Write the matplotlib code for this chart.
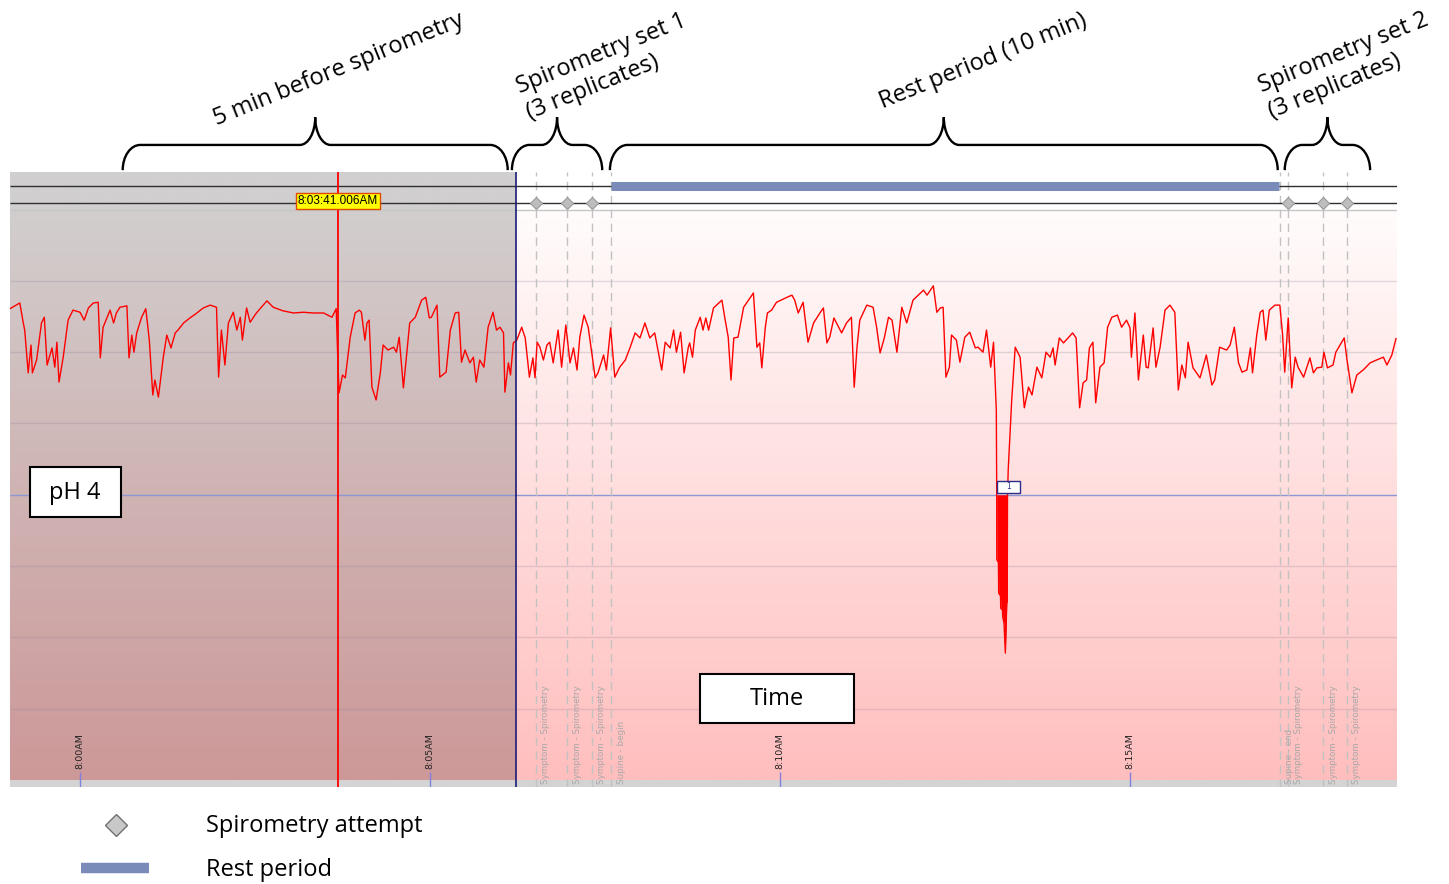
import numpy as np
import matplotlib
matplotlib.use("Agg")
from matplotlib import pyplot as plt
from matplotlib import transforms as mtransforms
from matplotlib.path import Path
from matplotlib.patches import PathPatch, Rectangle

# ---- data -------------------------------------------------------------
# time in minutes after 8:00AM, oesophageal pH
trace_time = [
    -1.00, -0.86, -0.81, -0.79, -0.74, -0.70, -0.68, -0.62, -0.55, -0.51,
    -0.47, -0.40, -0.36, -0.33, -0.30, -0.24, -0.17, -0.10, 0.00, 0.06,
    0.12, 0.19, 0.26, 0.29, 0.33, 0.43, 0.48, 0.52, 0.57, 0.67,
    0.70, 0.74, 0.77, 0.81, 0.88, 0.94, 0.99, 1.04, 1.07, 1.12,
    1.19, 1.24, 1.30, 1.36, 1.40, 1.48, 1.57, 1.67, 1.76, 1.86,
    1.95, 1.98, 2.02, 2.07, 2.12, 2.19, 2.24, 2.29, 2.32, 2.38,
    2.43, 2.52, 2.67, 2.76, 2.90, 3.05, 3.19, 3.33, 3.48, 3.60,
    3.66, 3.68, 3.70, 3.75, 3.79, 3.86, 3.93, 3.99,
    4.02, 4.07, 4.10, 4.13, 4.17, 4.23, 4.29, 4.33, 4.40, 4.48,
    4.52, 4.56, 4.62, 4.71, 4.79, 4.88, 4.94, 4.99, 5.02, 5.10,
    5.14, 5.23, 5.29, 5.36, 5.41, 5.45, 5.50, 5.57, 5.62, 5.66,
    5.71, 5.77, 5.83, 5.90, 5.95, 6.00, 6.05, 6.07, 6.12, 6.15,
    6.19, 6.24, 6.31, 6.36, 6.42, 6.47, 6.50, 6.53, 6.57, 6.62,
    6.67, 6.71, 6.76, 6.83, 6.88, 6.94, 7.00, 7.05, 7.10, 7.14,
    7.20, 7.26, 7.31, 7.36, 7.40, 7.48, 7.52, 7.58, 7.64, 7.71,
    7.79, 7.86, 7.93, 8.00, 8.07, 8.14, 8.21, 8.31, 8.36, 8.43,
    8.48, 8.52, 8.58, 8.63, 8.69,
    8.71, 8.75, 8.79, 8.86, 8.90, 8.94, 8.98, 9.05, 9.17, 9.21,
    9.26, 9.30, 9.34, 9.40, 9.48, 9.62, 9.67, 9.71, 9.74, 9.79,
    9.82, 9.88, 9.95, 10.10, 10.17, 10.21, 10.26, 10.33, 10.40, 10.48,
    10.57, 10.62, 10.67, 10.71, 10.77, 10.88, 10.95, 11.02, 11.06, 11.10,
    11.14, 11.24, 11.33, 11.38, 11.43, 11.49, 11.55, 11.60, 11.67, 11.74,
    11.81, 11.90, 12.05, 12.10, 12.19, 12.24, 12.29, 12.33, 12.37, 12.42,
    12.45, 12.52, 12.57, 12.64, 12.71, 12.79, 12.83, 12.90, 12.95, 13.01,
    13.05, 13.09,
    13.095, 13.097, 13.120, 13.124, 13.150, 13.153, 13.178, 13.181, 13.200, 13.219,
    13.235, 13.239, 13.246, 13.250, 13.260, 13.29, 13.31, 13.36,
    13.43, 13.49, 13.55, 13.60, 13.67, 13.74, 13.80, 13.86, 13.90, 13.93,
    13.99, 14.05, 14.18, 14.23, 14.28, 14.33, 14.38, 14.42, 14.47, 14.51,
    14.57, 14.63, 14.68, 14.74, 14.82, 14.88, 14.95, 15.00, 15.02, 15.07,
    15.12, 15.19, 15.23, 15.26, 15.33, 15.37, 15.43, 15.50, 15.57, 15.64,
    15.69, 15.74, 15.79, 15.83, 15.90, 16.00, 16.09, 16.17, 16.21, 16.28,
    16.38, 16.43, 16.49, 16.55, 16.60, 16.67, 16.72, 16.75, 16.81, 16.86,
    16.90, 16.94, 16.99, 17.07, 17.14, 17.18, 17.21, 17.26, 17.31, 17.36,
    17.40, 17.48, 17.57, 17.62, 17.67, 17.74, 17.77, 17.82, 17.90, 17.94,
    18.00, 18.06, 18.10, 18.17, 18.24, 18.33, 18.43, 18.52, 18.62, 18.67,
    18.74, 18.80,
]
trace_ph = [
    6.61, 6.69, 6.41, 6.31, 5.71, 6.10, 5.71, 5.89, 6.41, 6.49,
    5.82, 6.06, 5.79, 6.14, 5.58, 5.93, 6.45, 6.59, 6.56, 6.45,
    6.62, 6.69, 6.70, 5.92, 6.35, 6.59, 6.41, 6.55, 6.63, 6.65,
    5.92, 6.24, 6.00, 6.27, 6.49, 6.61, 6.17, 5.40, 5.61, 5.37,
    5.93, 6.24, 6.06, 6.27, 6.31, 6.41, 6.48, 6.55, 6.62, 6.66,
    6.63, 5.65, 6.31, 5.82, 6.41, 6.56, 6.31, 6.49, 6.17, 6.62,
    6.42, 6.55, 6.72, 6.63, 6.58, 6.55, 6.56, 6.55, 6.55, 6.49,
    6.61, 5.99, 5.43, 5.68, 5.64, 6.21, 6.55, 6.59,
    6.56, 6.17, 6.41, 6.45, 5.51, 5.33, 5.71, 6.10, 6.03, 6.07,
    6.00, 6.21, 5.50, 6.41, 6.49, 6.73, 6.77, 6.48, 6.49, 6.66,
    5.65, 5.72, 6.31, 6.55, 6.56, 5.86, 6.03, 5.85, 5.93, 5.58,
    5.89, 5.79, 6.35, 6.56, 6.31, 6.35, 6.27, 5.44, 5.85, 5.68,
    6.13, 6.17, 6.35, 6.20, 5.65, 5.92, 5.64, 6.14, 6.07, 5.89,
    6.10, 6.14, 5.85, 6.31, 5.79, 6.38, 5.85, 6.06, 5.75, 6.21,
    6.52, 6.35, 6.00, 5.64, 5.71, 5.96, 5.75, 6.34, 5.65, 5.79,
    5.89, 6.07, 6.27, 6.20, 6.41, 6.20, 6.27, 5.75, 6.14, 6.06,
    6.31, 6.00, 6.28, 5.71, 6.07,
    6.13, 5.93, 6.31, 6.49, 6.31, 6.48, 6.31, 6.62, 6.73, 6.49,
    6.21, 5.61, 6.20, 6.21, 6.63, 6.83, 6.07, 6.13, 5.78, 6.35,
    6.55, 6.59, 6.70, 6.77, 6.80, 6.73, 6.55, 6.70, 6.14, 6.41,
    6.55, 6.62, 6.13, 6.21, 6.48, 6.27, 6.41, 6.49, 5.51, 6.07,
    6.45, 6.66, 6.63, 6.35, 5.99, 6.20, 6.49, 6.45, 6.00, 6.63,
    6.41, 6.73, 6.87, 6.80, 6.93, 6.56, 6.62, 6.63, 5.65, 5.79,
    6.24, 6.17, 5.86, 6.21, 6.28, 6.06, 6.07, 6.00, 6.31, 5.79,
    6.14, 5.19,
    4.20, 3.09, 3.05, 2.62, 2.58, 2.41, 2.38, 2.29, 2.20, 1.78,
    2.30, 2.48, 2.50, 4.00, 4.35, 4.94, 5.33, 6.07,
    5.93, 5.22, 5.51, 5.40, 5.79, 5.64, 6.00, 5.93, 6.06, 5.82,
    6.20, 6.13, 6.27, 6.20, 5.22, 5.57, 5.61, 6.06, 6.14, 5.29,
    5.79, 5.85, 6.35, 6.49, 6.52, 6.35, 6.45, 6.34, 5.93, 6.55,
    5.61, 6.24, 5.79, 5.78, 6.34, 5.79, 6.07, 6.59, 6.66, 6.56,
    5.47, 5.82, 5.64, 6.14, 5.78, 5.64, 5.96, 5.54, 5.61, 6.07,
    6.03, 6.10, 6.35, 5.85, 5.72, 5.75, 6.06, 5.71, 6.24, 6.56,
    6.59, 6.17, 6.59, 6.66, 6.66, 6.24, 5.72, 6.48, 5.50, 5.93,
    5.79, 5.65, 5.92, 5.71, 5.78, 5.79, 6.00, 5.78, 5.82, 6.00,
    6.10, 6.20, 5.89, 5.43, 5.68, 5.75, 5.85, 5.89, 5.93, 5.82,
    5.96, 6.19,
]

event_time = [6.51, 6.96, 7.31, 7.59, 17.14, 17.26, 17.76, 18.10]
event_label = ["Symptom - Spirometry", "Symptom - Spirometry", "Symptom - Spirometry",
               "Supine - begin", "Supine - end", "Symptom - Spirometry",
               "Symptom - Spirometry", "Symptom - Spirometry"]
spiro_time = [6.51, 6.96, 7.31, 17.26, 17.76, 18.10]
rest_start, rest_end = 7.59, 17.13

tick_time = [0, 5, 10, 15]
tick_label = ["8:00AM", "8:05AM", "8:10AM", "8:15AM"]

cursor_time = 3 + 41.006 / 60
cursor_label = "8:03:41.006AM"
shade_end = 6.23          # end of the grey "before spirometry" block
ph_threshold = 4
grid_ph = [1, 2, 3, 5, 6, 7]

brace_start = [0.61, 6.17, 7.57, 17.21]
brace_end = [6.11, 7.46, 17.11, 18.43]
brace_text = ["5 min before spirometry", "Spirometry set 1\n(3 replicates)",
              "Rest period (10 min)", "Spirometry set 2\n(3 replicates)"]

# ---- figure -----------------------------------------------------------
W, H = 1449, 884
fig = plt.figure(figsize=(W / 100, H / 100), dpi=100)
fig.patch.set_facecolor("white")
ax = fig.add_axes([10 / W, (H - 787) / H, 1387 / W, 615 / H])

t_left, t_right = -1.0, 18.814
ph_bot, ph_top = -0.098, 8.527
track_top = 8.0


def vgrad(x0, x1, y0, y1, c_bot, c_top):
    f = np.linspace(0, 1, 256)[:, None]
    cb = np.array(c_bot) / 255.0
    ct = np.array(c_top) / 255.0
    img = (cb + (ct - cb) * f)[:, None, :]
    ax.imshow(img, extent=[x0, x1, y0, y1], origin="lower", aspect="auto",
              interpolation="bilinear", zorder=0)


vgrad(t_left, shade_end, 0, track_top, (205, 152, 152), (210, 206, 206))
vgrad(t_left, shade_end, track_top, ph_top, (209, 207, 207), (209, 207, 207))
vgrad(shade_end, t_right, 0, track_top, (255, 190, 190), (255, 252, 252))
vgrad(shade_end, t_right, track_top, ph_top, (255, 255, 255), (255, 255, 255))
vgrad(t_left, t_right, ph_bot, 0, (212, 212, 212), (212, 212, 212))

# grid lines
ax.hlines(grid_ph, t_left, t_right, colors=(0.55, 0.5, 0.6, 0.25), lw=1, zorder=1)
ax.hlines(ph_threshold, t_left, t_right, colors="#8c98d2", lw=1, zorder=2)
ax.hlines(track_top, t_left, t_right, colors="#c6c6c6", lw=1, zorder=1)

# event tracks
ax.hlines([8.33, 8.09], t_left, t_right, colors="#303030", lw=1, zorder=3)
ax.plot([rest_start, rest_end], [8.33, 8.33], color="#7b8bb9", lw=6.5,
        solid_capstyle="butt", zorder=4)
ax.vlines(event_time, ph_bot, ph_top, colors="#c2c2c2", lw=1,
          linestyles=(0, (6, 4)), zorder=2)
ax.plot(spiro_time, [8.09] * len(spiro_time), "D", ms=6.5, mfc="#bdbdbd",
        mec="#999999", mew=0.8, zorder=5)
for t, lab in zip(event_time, event_label):
    ax.text(t + 0.14, -0.06, lab, rotation=90, ha="center", va="bottom",
            fontsize=6.3, color="#a8a8a8", zorder=3)

# pH trace
tt = np.array(trace_time)
pp = np.array(trace_ph)
ax.fill_between(tt, pp, ph_threshold, where=pp < ph_threshold, interpolate=True,
                color="#ff0000", lw=0, zorder=5)
ax.plot(tt, pp, color="#ff0000", lw=1.0, zorder=6)

# reflux episode marker
ax.add_patch(Rectangle((13.10, 4.03), 0.33, 0.17, fc="white", ec="#2b2b8c",
                       lw=1, zorder=7))
ax.text(13.265, 4.115, "1", ha="center", va="center", fontsize=5.5,
        color="#2b2b8c", zorder=8)

# shaded block boundary and cursor
ax.vlines(shade_end, ph_bot, ph_top, colors="#1c1c78", lw=1.2, zorder=6)
ax.vlines(cursor_time, ph_bot, ph_top, colors="#ff0000", lw=1.3, zorder=6)
ax.text(cursor_time, 8.12, cursor_label, ha="center", va="center",
        fontsize=8.5, family="Liberation Sans", zorder=8,
        bbox=dict(boxstyle="square,pad=0.15", fc="#ffff00", ec="#e04a00", lw=1))

# time ticks
ax.vlines(tick_time, ph_bot, 0.11, colors="#8080e0", lw=1, zorder=4)
for t, lab in zip(tick_time, tick_label):
    ax.text(t, 0.15, lab, rotation=90, ha="center", va="bottom", fontsize=6.8,
            color="#222222", zorder=4)

ax.set_xlim(t_left, t_right)
ax.set_ylim(ph_bot, ph_top)
ax.axis("off")

# braces above the trace
trans = mtransforms.blended_transform_factory(ax.transData, ax.transAxes)
y0, y1, yt = 1.003, 1.044, 1.089
re, rm = 0.25, 0.22
k = 0.552
for x0, x1 in zip(brace_start, brace_end):
    xm = (x0 + x1) / 2
    verts = [(x0, y0),
             (x0, y0 + k * (y1 - y0)), (x0 + re - k * re, y1), (x0 + re, y1),
             (xm - rm, y1),
             (xm - rm + k * rm, y1), (xm, yt - k * (yt - y1)), (xm, yt),
             (xm, yt - k * (yt - y1)), (xm + rm - k * rm, y1), (xm + rm, y1),
             (x1 - re, y1),
             (x1 - re + k * re, y1), (x1, y0 + k * (y1 - y0)), (x1, y0)]
    codes = [Path.MOVETO] + [Path.CURVE4] * 3 + [Path.LINETO] + [Path.CURVE4] * 6 \
        + [Path.LINETO] + [Path.CURVE4] * 3
    ax.add_patch(PathPatch(Path(verts, codes), fc="none", ec="black", lw=1.7,
                           transform=trans, clip_on=False, zorder=10))

label_pos = [(3.69, 1.166), (7.52, 1.171), (12.90, 1.180), (18.12, 1.172)]
for (lx, ly), txt in zip(label_pos, brace_text):
    ax.text(lx, ly, txt, transform=trans, rotation=22, rotation_mode="anchor",
            ha="center", va="center", multialignment="left", linespacing=1.2,
            fontsize=17, family="Open Sans", clip_on=False)

# ---- overlay: boxes and legend (figure pixels) ------------------------
ov = fig.add_axes([0, 0, 1, 1])
ov.set_xlim(0, W)
ov.set_ylim(H, 0)
ov.axis("off")
ov.patch.set_alpha(0)

ov.add_patch(Rectangle((30, 467), 91, 50, fc="white", ec="black", lw=1.5))
ov.text(75, 493, "pH 4", ha="center", va="center", fontsize=17, family="Open Sans")
ov.add_patch(Rectangle((700, 674), 154, 49, fc="white", ec="black", lw=1.5))
ov.text(777, 699, "Time", ha="center", va="center", fontsize=17, family="Open Sans")

ov.plot([116], [825], "D", ms=11, mfc="#c8c8c8", mec="#707070", mew=1)
ov.text(206, 826, "Spirometry attempt", ha="left", va="center", fontsize=17,
        family="Open Sans")
ov.plot([81, 149], [868, 868], color="#7b8bb9", lw=7.5, solid_capstyle="butt")
ov.text(206, 870, "Rest period", ha="left", va="center", fontsize=17,
        family="Open Sans")

fig.savefig("out.png", dpi=100)
